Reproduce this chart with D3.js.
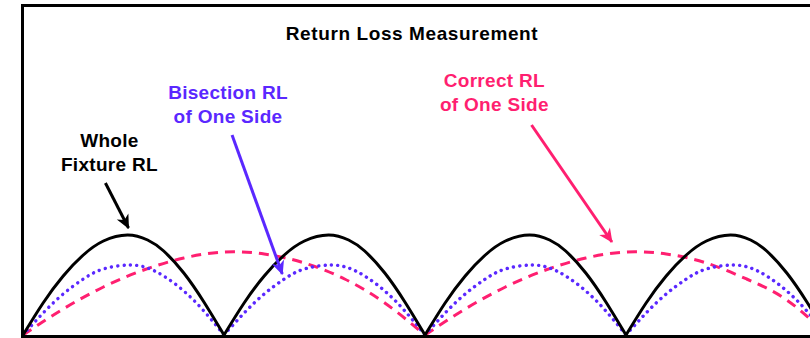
<!DOCTYPE html>
<html lang="en">

<body style="margin:0">
    <script type='text/javascript' src='https://d3js.org/d3.v7.min.js'></script>
    <script>

        // Whole fixture RL, one arch per half-wave (x in arch periods, y relative to peak)
        var blackArches = [
            [[0, 0], [0.1, 0.32], [0.2, 0.59], [0.3, 0.80], [0.4, 0.94], [0.52, 1.0], [0.62, 0.95], [0.7, 0.84], [0.8, 0.62], [0.9, 0.33], [1, 0]],
            [[1, 0], [1.1, 0.32], [1.2, 0.59], [1.3, 0.80], [1.4, 0.94], [1.52, 1.0], [1.62, 0.95], [1.7, 0.84], [1.8, 0.62], [1.9, 0.33], [2, 0]],
            [[2, 0], [2.1, 0.32], [2.2, 0.59], [2.3, 0.80], [2.4, 0.94], [2.52, 1.0], [2.62, 0.95], [2.7, 0.84], [2.8, 0.62], [2.9, 0.33], [3, 0]],
            [[3, 0], [3.1, 0.32], [3.2, 0.59], [3.3, 0.80], [3.4, 0.94], [3.52, 1.0], [3.62, 0.95], [3.7, 0.84], [3.8, 0.62], [3.9, 0.33], [4, 0]]
        ];
        // Bisection RL of one side
        var blueArches = [
            [[0, 0], [0.1, 0.22], [0.2, 0.41], [0.3, 0.56], [0.4, 0.66], [0.53, 0.70], [0.62, 0.67], [0.7, 0.59], [0.8, 0.44], [0.9, 0.24], [1, 0]],
            [[1, 0], [1.1, 0.22], [1.2, 0.41], [1.3, 0.56], [1.4, 0.66], [1.53, 0.70], [1.62, 0.67], [1.7, 0.59], [1.8, 0.44], [1.9, 0.24], [2, 0]],
            [[2, 0], [2.1, 0.22], [2.2, 0.41], [2.3, 0.56], [2.4, 0.66], [2.53, 0.70], [2.62, 0.67], [2.7, 0.59], [2.8, 0.44], [2.9, 0.24], [3, 0]],
            [[3, 0], [3.1, 0.22], [3.2, 0.41], [3.3, 0.56], [3.4, 0.66], [3.53, 0.70], [3.62, 0.67], [3.7, 0.59], [3.8, 0.44], [3.9, 0.24], [4, 0]]
        ];
        // Correct RL of one side (twice the period)
        var pinkArches = [
            [[0, 0], [0.2, 0.26], [0.4, 0.48], [0.6, 0.65], [0.8, 0.77], [1.0, 0.83], [1.2, 0.81], [1.4, 0.72], [1.6, 0.56], [1.8, 0.32], [2, 0]],
            [[2, 0], [2.2, 0.26], [2.4, 0.48], [2.6, 0.65], [2.8, 0.77], [3.0, 0.83], [3.2, 0.81], [3.4, 0.72], [3.6, 0.56], [3.8, 0.35], [4, 0]]
        ];

        var title = "Return Loss Measurement";
        // label lines with anchor [x, y] in data units
        var labels = [
            { lines: ["Whole", "Fixture RL"], at: [0.43, 1.88], color: "#000000" },
            { lines: ["Bisection RL", "of One Side"], at: [1.02, 2.36], color: "#5a28ff" },
            { lines: ["Correct RL", "of One Side"], at: [2.345, 2.48], color: "#ff1f70" }
        ];
        var arrows = [
            { from: [0.41, 1.52], to: [0.525, 1.07], color: "#000000", id: "ab" },
            { from: [1.04, 2.0], to: [1.29, 0.61], color: "#5a28ff", id: "au" },
            { from: [2.53, 2.10], to: [2.93, 0.93], color: "#ff1f70", id: "ap" }
        ];

        const W = 810, H = 338;
        const left = 23, base = 335;

        const svg = d3.select("body")
            .append("svg")
            .attr("width", W)
            .attr("height", H)
            .style("display", "block");

        const x = d3.scaleLinear().domain([0, 1]).range([left, left + 201]);
        const y = d3.scaleLinear().domain([0, 1]).range([base, base - 100]);

        const line = d3.line()
            .x(d => x(d[0]))
            .y(d => y(d[1]))
            .curve(d3.curveNatural);

        // pink dashed
        svg.selectAll(".pink").data(pinkArches).enter().append("path")
            .attr("d", line)
            .attr("fill", "none")
            .attr("stroke", "#ff1f70")
            .attr("stroke-width", 3)
            .attr("stroke-dasharray", "10 7");

        // blue dotted
        svg.selectAll(".blue").data(blueArches).enter().append("path")
            .attr("d", line)
            .attr("fill", "none")
            .attr("stroke", "#5a28ff")
            .attr("stroke-width", 3.4)
            .attr("stroke-linecap", "round")
            .attr("stroke-dasharray", "0.1 6.2");

        // black solid
        svg.selectAll(".black").data(blackArches).enter().append("path")
            .attr("d", line)
            .attr("fill", "none")
            .attr("stroke", "#000")
            .attr("stroke-width", 3);

        // frame
        svg.append("path")
            .attr("d", "M810,5.5 H22.5 V336.5 H810")
            .attr("fill", "none")
            .attr("stroke", "#000")
            .attr("stroke-width", 3);

        // arrow heads
        const defs = svg.append("defs");
        arrows.forEach(a => {
            defs.append("marker")
                .attr("id", a.id)
                .attr("viewBox", "-14 -7 16 14")
                .attr("refX", 0).attr("refY", 0)
                .attr("markerWidth", 16).attr("markerHeight", 14)
                .attr("markerUnits", "userSpaceOnUse")
                .attr("orient", "auto")
                .append("path")
                .attr("d", "M1,0 L-13,-6.5 L-9,0 L-13,6.5 Z")
                .attr("fill", a.color);
        });

        svg.selectAll(".arrow").data(arrows).enter().append("line")
            .attr("x1", d => x(d.from[0])).attr("y1", d => y(d.from[1]))
            .attr("x2", d => x(d.to[0])).attr("y2", d => y(d.to[1]))
            .attr("stroke", d => d.color)
            .attr("stroke-width", 3)
            .attr("marker-end", d => "url(#" + d.id + ")");

        // texts
        svg.append("text")
            .attr("x", 412).attr("y", 40)
            .attr("text-anchor", "middle")
            .style("font-family", "Liberation Sans, Arial, sans-serif")
            .style("font-weight", "bold")
            .style("font-size", "19px")
            .style("letter-spacing", "0.6px")
            .text(title);

        labels.forEach(l => {
            const t = svg.append("text")
                .attr("text-anchor", "middle")
                .attr("fill", l.color)
                .style("font-family", "Liberation Sans, Arial, sans-serif")
                .style("font-weight", "bold")
                .style("font-size", "19px")
                .style("letter-spacing", "0.3px");
            l.lines.forEach((s, i) => {
                t.append("tspan")
                    .attr("x", x(l.at[0]))
                    .attr("y", y(l.at[1]) + i * 24)
                    .text(s);
            });
        });

    </script>

</body>

</html>
